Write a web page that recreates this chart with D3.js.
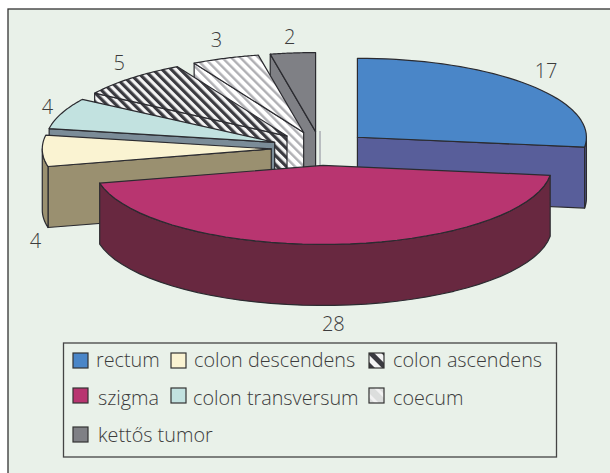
<!DOCTYPE html>
<html>
<head>
<meta charset="utf-8">
<script src="https://cdn.jsdelivr.net/npm/d3@7"></script>
<style>
html, body { margin: 0; padding: 0; background: #fff; }
svg { display: block; }
text { font-family: "Open Sans", sans-serif; fill: #3c3c3c; font-weight: 300; }
</style>
</head>
<body>
<div id="chart"></div>
<script>
const categories = ['rectum', 'szigma', 'colon descendens', 'colon transversum', 'colon ascendens', 'coecum', 'kettős tumor'];
const values = [17, 28, 4, 4, 5, 3, 2];
const topColors = ['#4a86c8', '#b83570', '#faf3d2', '#c2e2e0', 'url(#hatchDark)', 'url(#hatchLight)', '#7f8085'];
const wallColors = ['#585e9a', '#682840', '#9a9070', '#7b8c98', 'url(#hatchDark)', 'url(#hatchLight)', '#7f8085'];
const swatchColors = ['#4a86c8', '#b83570', '#faf3d2', '#c2e2e0', 'url(#swatchDark)', 'url(#swatchLight)', '#7f8085'];

// label nudges from the slice's outer edge, same order as categories
const labelNudge = [[17, -7], [-1, 26], [-7, 36], [-14, 1], [-12, -8], [-9, -11], [-3, -9]];

// legend order as printed, row by row
const legendOrder = [0, 2, 4, 1, 3, 5, 6];
const legendSwatchX = [73, 171, 369, 73, 171, 369, 73];
const legendSwatchY = [353, 353, 353, 388, 388, 388, 427];
const legendTextX = [96, 194, 393, 98, 193, 393, 98];
const legendBaseline = [367, 367, 367, 405, 405, 405, 442];

const width = 610, height = 473;
const depth = 61, explode = 0.215;

const x = d3.scaleLinear().domain([-1, 1]).range([320.5 - 229, 320.5 + 229]);
const y = d3.scaleLinear().domain([-1, 1]).range([148.5 - 79, 148.5 + 79]);

const svg = d3.select('#chart').append('svg').attr('width', width).attr('height', height);

const defs = svg.append('defs');
function hatch(id, ground, stripe, size, w) {
    const p = defs.append('pattern').attr('id', id)
        .attr('patternUnits', 'userSpaceOnUse')
        .attr('width', size).attr('height', size)
        .attr('patternTransform', 'rotate(-45)');
    p.append('rect').attr('width', size).attr('height', size).attr('fill', ground);
    p.append('rect').attr('width', w).attr('height', size).attr('fill', stripe);
}
hatch('hatchDark', '#f4f4f4', '#3a3a40', 6.4, 3.2);
hatch('hatchLight', '#fff', '#b0b0b4', 6.4, 2.4);
hatch('swatchDark', '#f4f4f4', '#3a3a40', 10, 5);
hatch('swatchLight', '#dcdedd', '#f2f2f2', 10, 3);

// page background + frame
svg.append('rect').attr('x', 8).attr('y', 9).attr('width', width).attr('height', height)
    .attr('fill', '#e9f1e9').attr('stroke', '#333').attr('stroke-width', 1.3);

const slices = d3.pie().sort(null).value(d => d)(values).map((d, i) => {
    const mid = (d.startAngle + d.endAngle) / 2;
    return {
        i: i, start: d.startAngle, end: d.endAngle, mid: mid,
        ox: Math.sin(mid) * explode,
        oy: -Math.cos(mid) * explode
    };
});

function pt(s, a, r, drop) {
    return [x(s.ox + Math.sin(a) * r), y(s.oy - Math.cos(a) * r) + (drop || 0)];
}
function arcPts(s, a0, a1, drop) {
    return d3.range(0, 41).map(t => pt(s, a0 + (a1 - a0) * t / 40, 1, drop));
}
const line = d3.line();
const stroke = '#2b2b30';

function face(g, pts, fill) {
    g.append('path').attr('d', line(pts) + 'Z')
        .attr('fill', fill).attr('stroke', stroke)
        .attr('stroke-width', 1.2).attr('stroke-linejoin', 'round');
}

// thin leader behind the slices
svg.append('line').attr('x1', 320).attr('x2', 320).attr('y1', 131).attr('y2', 168)
    .attr('stroke', '#8a8a98').attr('stroke-width', 1);

const drawOrder = slices.slice().sort((a, b) => d3.descending(Math.cos(a.mid), Math.cos(b.mid)));

drawOrder.forEach(s => {
    const g = svg.append('g');
    const fill = wallColors[s.i];
    const tip = pt(s, 0, 0);
    // only the cut wall that faces the viewer
    const cuts = [];
    if (Math.sin(s.start) < -1e-6) cuts.push(s.start);
    if (Math.sin(s.end) > 1e-6) cuts.push(s.end);
    cuts.forEach(a => {
        const rim = pt(s, a, 1);
        face(g, [tip, rim, [rim[0], rim[1] + depth], [tip[0], tip[1] + depth]], fill);
    });
    // outer wall, front part
    const a0 = Math.max(s.start, Math.PI / 2), a1 = Math.min(s.end, Math.PI * 1.5);
    if (a1 > a0) {
        face(g, arcPts(s, a0, a1, 0).concat(arcPts(s, a1, a0, depth)), fill);
    }
    // top
    face(g, [tip].concat(arcPts(s, s.start, s.end, 0)), topColors[s.i]);
});

// value labels
slices.forEach(s => {
    const lower = Math.cos(s.mid) < 0;
    const p = pt(s, s.mid, 1, lower ? depth : 0);
    svg.append('text')
        .attr('x', p[0] + labelNudge[s.i][0])
        .attr('y', p[1] + labelNudge[s.i][1])
        .attr('text-anchor', 'middle')
        .attr('font-size', 20)
        .text(values[s.i]);
});

// legend
svg.append('rect').attr('x', 63.5).attr('y', 343).attr('width', 493).attr('height', 114)
    .attr('fill', 'none').attr('stroke', '#444').attr('stroke-width', 1.3);

legendOrder.forEach((c, i) => {
    svg.append('rect')
        .attr('x', legendSwatchX[i]).attr('y', legendSwatchY[i])
        .attr('width', 15).attr('height', 15)
        .attr('fill', swatchColors[c])
        .attr('stroke', '#333').attr('stroke-width', 1.2);
    svg.append('text')
        .attr('x', legendTextX[i]).attr('y', legendBaseline[i])
        .attr('font-size', 19.8)
        .text(categories[c]);
});
</script>
</body>
</html>
